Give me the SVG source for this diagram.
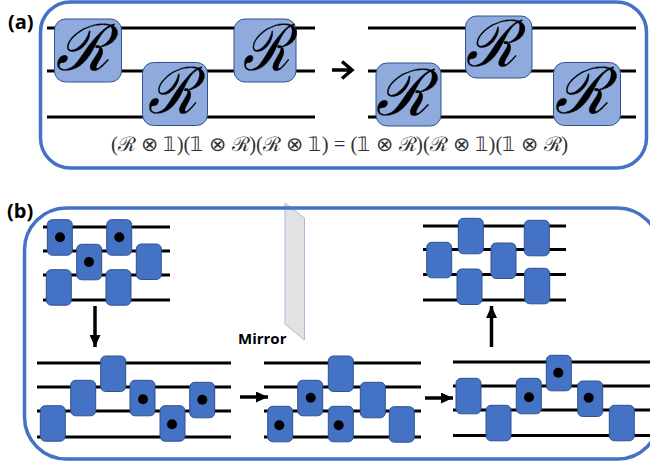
<svg xmlns="http://www.w3.org/2000/svg" width="650" height="466" viewBox="0 0 650 466">
<style>
.panel{fill:none;stroke:#4472C4;stroke-width:3.500}
.w{stroke:#000;stroke-width:3;fill:none}
.R{fill:#8FAADC;stroke:#2F528F;stroke-width:1}
.g{fill:#4472C4;stroke:#2F528F;stroke-width:1}
.d{fill:#000}
.rt{font-family:"Liberation Serif",serif;font-style:italic;font-size:64px;fill:#000;stroke:#000;stroke-width:.4}
.f{font-family:"Liberation Serif",serif;font-size:20px;fill:#333}
.l{font-family:"Open Sans","Liberation Sans",sans-serif;font-weight:700;fill:#000}
</style>
<defs>
<rect id="gate" class="g" width="25" height="35.500" rx="5"/>
<marker id="ah" markerWidth="12" markerHeight="11" refX="12" refY="5.500" orient="auto" markerUnits="userSpaceOnUse"><path d="M0 0L12 5.500L0 11Z" fill="#000"/></marker>
</defs>
<path id="mirror" d="M285 203L304.500 218V340L285 324Z" fill="#E2E2E2" stroke="#A9BBDD" stroke-width="1"/>
<rect id="panel-a" class="panel" x="40.500" y="2" width="606" height="166" rx="30"/>
<rect id="panel-b" class="panel" x="24.500" y="208" width="635" height="251" rx="42"/>
<g id="connectors">
<path class="w" d="M47 28H315M47 71H315M47 117H315M368 28H636M368 71H636M368 117H636"/>
<path class="w" d="M43 227H170M43 251H170M43 275H170M43 300H170"/>
<path class="w" d="M423 226H566M423 249.500H566M423 274.500H566M423 300H566"/>
<path class="w" d="M37 363H231M37 387H231M37 411H231M37 437H231"/>
<path class="w" d="M264 363H421M264 387H421M264 411H421M264 437H421"/>
<path class="w" d="M453 362H650M453 386H650M453 410H650M453 435.500H650"/>
<path d="M332 70H351M342 61.500L352 70L342 78.500" fill="none" stroke="#000" stroke-width="3.500"/>
<path d="M95 306V347" stroke="#000" stroke-width="3.500" marker-end="url(#ah)"/>
<path d="M491.500 347V306" stroke="#000" stroke-width="3.500" marker-end="url(#ah)"/>
<path d="M240 397H268" stroke="#000" stroke-width="3.500" marker-end="url(#ah)"/>
<path d="M425 398H453" stroke="#000" stroke-width="3.500" marker-end="url(#ah)"/>
</g>
<g id="r1"><rect class="R" x="54.500" y="19" width="67" height="63" rx="11"/><text class="rt" transform="translate(56 70) scale(.96 1)">ℛ</text></g>
<g id="r2"><rect class="R" x="142.500" y="62.500" width="65" height="63" rx="11"/><text class="rt" transform="translate(148 113) scale(.88 1)">ℛ</text></g>
<g id="r3"><rect class="R" x="234" y="19" width="62" height="63" rx="11"/><text class="rt" transform="translate(243 70) scale(.84 1)">ℛ</text></g>
<g id="r4"><rect class="R" x="376" y="63" width="65" height="63" rx="11"/><text class="rt" transform="translate(376 115) scale(.96 1)">ℛ</text></g>
<g id="r5"><rect class="R" x="465.500" y="16" width="66.500" height="62" rx="11"/><text class="rt" transform="translate(466 66) scale(.92 1)">ℛ</text></g>
<g id="r6"><rect class="R" x="553.500" y="62.500" width="67" height="63" rx="11"/><text class="rt" transform="translate(555 113) scale(.96 1)">ℛ</text></g>
<text id="formula" class="f" x="111" y="151" textLength="457" lengthAdjust="spacingAndGlyphs">(ℛ ⊗ 𝟙)(𝟙 ⊗ ℛ)(ℛ ⊗ 𝟙) = (𝟙 ⊗ ℛ)(ℛ ⊗ 𝟙)(𝟙 ⊗ ℛ)</text>
<g id="c1">
<use href="#gate" x="47.300" y="219.700"/><circle class="d" cx="60" cy="237.300" r="5"/>
<use href="#gate" x="76.700" y="244.300"/><circle class="d" cx="89" cy="262" r="5"/>
<use href="#gate" x="106.700" y="219.700"/><circle class="d" cx="119.300" cy="237.300" r="5"/>
<use href="#gate" x="136.300" y="244"/>
<use href="#gate" x="46.300" y="269.700"/>
<use href="#gate" x="106" y="269.700"/>
</g>
<g id="c2">
<use href="#gate" x="458.300" y="218.300"/>
<use href="#gate" x="426.700" y="242.300"/>
<use href="#gate" x="491" y="243"/>
<use href="#gate" x="524.300" y="220.300"/>
<use href="#gate" x="457" y="269"/>
<use href="#gate" x="524.700" y="268.300"/>
</g>
<g id="c3">
<use href="#gate" x="40.300" y="405.700"/>
<use href="#gate" x="70.700" y="380.300"/>
<use href="#gate" x="100.700" y="356"/>
<use href="#gate" x="130" y="380.300"/><circle class="d" cx="143" cy="399.300" r="5"/>
<use href="#gate" x="160" y="405.700"/><circle class="d" cx="172" cy="424.300" r="5"/>
<use href="#gate" x="189.700" y="382.300"/><circle class="d" cx="202.300" cy="399.700" r="5"/>
</g>
<g id="c4">
<use href="#gate" x="267.700" y="406.300"/><circle class="d" cx="279.300" cy="425.300" r="5"/>
<use href="#gate" x="297.700" y="380.300"/><circle class="d" cx="310.700" cy="397.700" r="5"/>
<use href="#gate" x="328.300" y="356"/>
<use href="#gate" x="328.300" y="406.300"/><circle class="d" cx="338.700" cy="425.300" r="5"/>
<use href="#gate" x="360.300" y="382.300"/>
<use href="#gate" x="389.300" y="406.700"/>
</g>
<g id="c5">
<use href="#gate" x="456" y="378.300"/>
<use href="#gate" x="486" y="405.300"/>
<use href="#gate" x="516.300" y="378.300"/><circle class="d" cx="529" cy="397.300" r="5"/>
<use href="#gate" x="546.300" y="355.300"/><circle class="d" cx="558.300" cy="372.700" r="5"/>
<use href="#gate" x="577.700" y="381"/><circle class="d" cx="588.700" cy="397.700" r="5"/>
<use href="#gate" x="609.300" y="405.300"/>
</g>
<text id="label-a" class="l" x="8" y="29" font-size="20">(a)</text>
<text id="label-b" class="l" x="7" y="218" font-size="20">(b)</text>
<text id="label-mirror" class="l" x="238" y="344" font-size="15">Mirror</text>
</svg>
